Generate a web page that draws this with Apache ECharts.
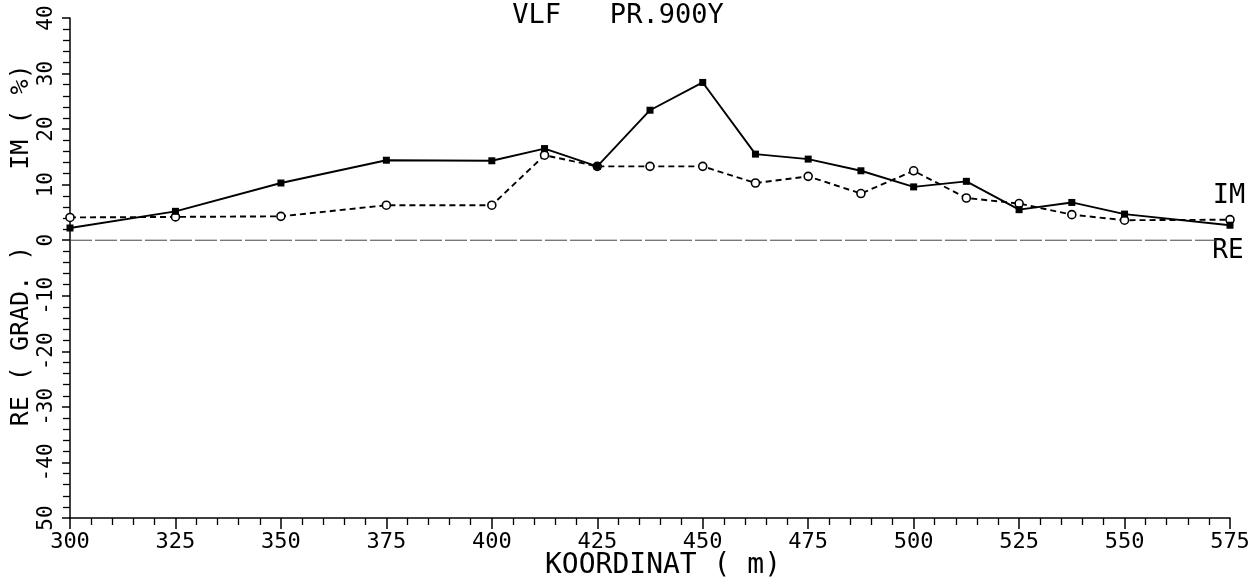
<!DOCTYPE html>
<html>
<head>
<meta charset="utf-8">
<script src="https://cdn.jsdelivr.net/npm/echarts@6/dist/echarts.min.js"></script>
<style>
html,body{margin:0;padding:0;background:#fff;}
#c{width:1259px;height:585px;}
</style>
</head>
<body>
<div id="c"></div>
<script>
var coords = [300,325,350,375,400,412.5,425,437.5,450,462.5,475,487.5,500,512.5,525,537.5,550,575];
var solidValues = [2.2,5.2,10.3,14.4,14.3,16.5,13.3,23.4,28.4,15.5,14.6,12.5,9.6,10.6,5.5,6.8,4.7,2.7];
var dashedValues = [4.1,4.2,4.3,6.3,6.3,15.3,13.3,13.3,13.3,10.3,11.5,8.4,12.5,7.6,6.6,4.6,3.6,3.7];
var reCoords = [300,572];
var reValues = [0,0];
var titleText = 'VLF   PR.900Y';
var xName = 'KOORDINAT ( m)';
var yNameTop = 'IM ( %)';
var yNameBottom = 'RE ( GRAD. )';

function pairs(xs, ys){ return xs.map(function(x,i){ return [x, ys[i]]; }); }

var FONT = '"DejaVu Sans Mono", monospace';
var chart = echarts.init(document.getElementById('c'), null, {renderer:'canvas'});
chart.setOption({
  backgroundColor:'#fff',
  animation:false,
  grid:{left:70, right:29, top:18, bottom:67, containLabel:false},
  xAxis:{
    type:'value', min:300, max:575, interval:25,
    axisLine:{show:true, onZero:false, lineStyle:{color:'#000', width:1.5}},
    axisTick:{show:true, inside:false, length:11, lineStyle:{color:'#000', width:1.5}},
    minorTick:{show:true, splitNumber:5, length:7, lineStyle:{color:'#000', width:1.3}},
    splitLine:{show:false},
    axisLabel:{color:'#000', fontFamily:FONT, fontSize:22, margin:13}
  },
  yAxis:{
    type:'value', min:-50, max:40, interval:10,
    axisLine:{show:true, onZero:false, lineStyle:{color:'#000', width:1.5}},
    axisTick:{show:true, inside:false, length:8, lineStyle:{color:'#000', width:1.5}},
    minorTick:{show:true, splitNumber:5, length:7, lineStyle:{color:'#000', width:1.3}},
    splitLine:{show:false},
    axisLabel:{color:'#000', fontFamily:FONT, fontSize:21, rotate:90, margin:13,
      formatter:function(v){ return v === -50 ? '50' : String(v); }}
  },
  series:[
    {name:'RE', type:'line', data:pairs(reCoords, reValues), symbol:'none',
     lineStyle:{color:'#444', width:1, type:[22,3]}, z:1},
    {name:'dashed', type:'line', data:pairs(coords, dashedValues), symbol:'circle', symbolSize:8,
     itemStyle:{color:'#fff', borderColor:'#000', borderWidth:1.6},
     lineStyle:{color:'#000', width:1.9, type:[6,4]}, z:2},
    {name:'solid', type:'line', data:pairs(coords, solidValues), symbol:'rect', symbolSize:7,
     itemStyle:{color:'#000'},
     lineStyle:{color:'#000', width:1.9}, z:3}
  ],
  graphic:[
    {type:'text', x:618, y:16, style:{text:titleText, font:'27px '+FONT, fill:'#000', textAlign:'center', textVerticalAlign:'middle'}},
    {type:'text', x:663, y:566, style:{text:xName, font:'28px '+FONT, fill:'#000', textAlign:'center', textVerticalAlign:'middle'}},
    {type:'text', x:21, y:117, rotation:Math.PI/2, style:{text:yNameTop, font:'25px '+FONT, fill:'#000', textAlign:'center', textVerticalAlign:'middle'}},
    {type:'text', x:21, y:336, rotation:Math.PI/2, style:{text:yNameBottom, font:'25px '+FONT, fill:'#000', textAlign:'center', textVerticalAlign:'middle'}},
    {type:'text', x:1229, y:196, style:{text:'IM', font:'27px '+FONT, fill:'#000', textAlign:'center', textVerticalAlign:'middle'}},
    {type:'text', x:1228, y:251, style:{text:'RE', font:'26px '+FONT, fill:'#000', textAlign:'center', textVerticalAlign:'middle'}}
  ]
});
</script>
</body>
</html>
